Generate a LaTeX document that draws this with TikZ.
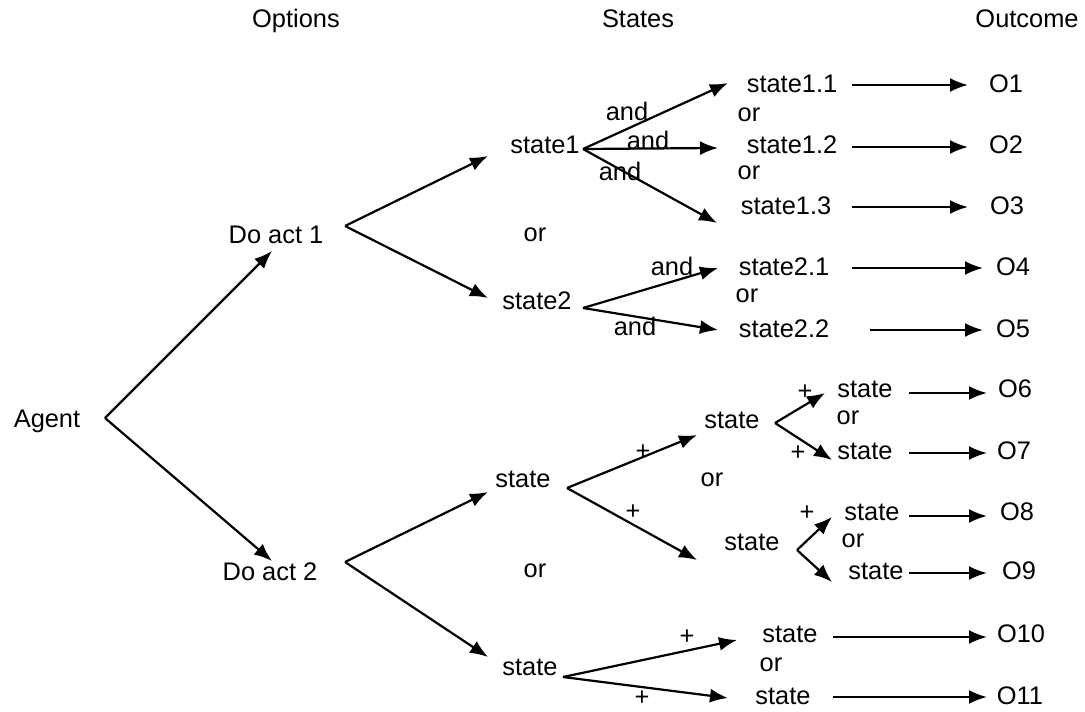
\documentclass[tikz,border=0pt]{standalone}
\usepackage{fontspec}
\setmainfont{Liberation Sans}
\usetikzlibrary{arrows.meta}

\begin{document}
\begin{tikzpicture}[x=0.5pt, y=-0.5pt,
		lbl/.style={font=\fontsize{12.7}{15}\selectfont, inner sep=0pt, text height=0.72em, text depth=0pt},
		arr/.style={-{Latex[length=9pt, width=7pt]}, line width=1.1pt}]
		\useasboundingbox (0, 0) rectangle (1085, 711);

		% headings
		\node [lbl] (hopt) at (296, 20) {Options};
		\node [lbl] (hsta) at (638, 20) {States};
		\node [lbl] (hout) at (1027, 20) {Outcome};

		% agent and options
		\node [lbl] (agent) at (47, 420) {Agent};
		\node [lbl] (act1) at (276, 236) {Do act 1};
		\node [lbl] (act2) at (270, 573) {Do act 2};
		\coordinate (agent-o) at (105, 418);
		\coordinate (act1-i) at (272, 251);
		\coordinate (act1-o) at (345, 226);
		\coordinate (act2-i) at (272, 561);
		\coordinate (act2-o) at (345, 562);
		\draw [arr] (agent-o) -- (act1-i);
		\draw [arr] (agent-o) -- (act2-i);

		% states of act 1
		\node [lbl] (s1) at (545, 146) {state1};
		\node [lbl] (s2) at (537, 302) {state2};
		\node [lbl] (or1) at (535, 234) {or};
		\coordinate (s1-i) at (488, 156);
		\coordinate (s1-o) at (583, 149);
		\coordinate (s2-i) at (488, 298);
		\coordinate (s2-o) at (583, 308);
		\draw [arr] (act1-o) -- (s1-i);
		\draw [arr] (act1-o) -- (s2-i);

		\node [lbl] (s11) at (792, 85) {state1.1};
		\node [lbl] (s12) at (792, 146) {state1.2};
		\node [lbl] (s13) at (786, 207) {state1.3};
		\node [lbl] (or11) at (749, 114) {or};
		\node [lbl] (or12) at (749, 172) {or};
		\node [lbl] (and11) at (627, 113) {and};
		\node [lbl] (and12) at (648, 142) {and};
		\node [lbl] (and13) at (620, 173) {and};
		\coordinate (s11-i) at (728, 83);
		\coordinate (s12-i) at (718, 148);
		\coordinate (s13-i) at (717, 223);
		\draw [arr] (s1-o) -- (s11-i);
		\draw [arr] (s1-o) -- (s12-i);
		\draw [arr] (s1-o) -- (s13-i);

		\node [lbl] (s21) at (784, 268) {state2.1};
		\node [lbl] (s22) at (784, 330) {state2.2};
		\node [lbl] (or21) at (747, 295) {or};
		\node [lbl] (and21) at (672, 268) {and};
		\node [lbl] (and22) at (635, 328) {and};
		\coordinate (s21-i) at (718, 268);
		\coordinate (s22-i) at (718, 330);
		\draw [arr] (s2-o) -- (s21-i);
		\draw [arr] (s2-o) -- (s22-i);

		% states of act 2
		\node [lbl] (s3) at (523, 480) {state};
		\node [lbl] (s4) at (530, 668) {state};
		\node [lbl] (or2) at (535, 570) {or};
		\coordinate (s3-i) at (488, 492);
		\coordinate (s3-o) at (567, 488);
		\coordinate (s4-i) at (488, 657);
		\coordinate (s4-o) at (563, 677);
		\draw [arr] (act2-o) -- (s3-i);
		\draw [arr] (act2-o) -- (s4-i);

		\node [lbl] (s31) at (732, 421) {state};
		\node [lbl] (s32) at (752, 543) {state};
		\node [lbl] (or3) at (712, 479) {or};
		\node [lbl] (p31) at (643, 452) {+};
		\node [lbl] (p32) at (633, 512) {+};
		\coordinate (s31-i) at (697, 435);
		\coordinate (s31-o) at (775, 423);
		\coordinate (s32-i) at (697, 560);
		\coordinate (s32-o) at (797, 550);
		\draw [arr] (s3-o) -- (s31-i);
		\draw [arr] (s3-o) -- (s32-i);

		\node [lbl] (s311) at (865, 390) {state};
		\node [lbl] (s312) at (865, 452) {state};
		\node [lbl] (or31) at (848, 417) {or};
		\node [lbl] (p311) at (805, 392) {+};
		\node [lbl] (p312) at (798, 453) {+};
		\coordinate (s311-i) at (825, 393);
		\coordinate (s312-i) at (832, 460);
		\draw [arr] (s31-o) -- (s311-i);
		\draw [arr] (s31-o) -- (s312-i);

		\node [lbl] (s321) at (872, 513) {state};
		\node [lbl] (s322) at (876, 572) {state};
		\node [lbl] (or32) at (853, 540) {or};
		\node [lbl] (p321) at (807, 513) {+};
		\coordinate (s321-i) at (832, 517);
		\coordinate (s322-i) at (832, 582);
		\draw [arr] (s32-o) -- (s321-i);
		\draw [arr] (s32-o) -- (s322-i);

		\node [lbl] (s41) at (790, 635) {state};
		\node [lbl] (s42) at (783, 697) {state};
		\node [lbl] (or4) at (771, 664) {or};
		\node [lbl] (p41) at (687, 637) {+};
		\node [lbl] (p42) at (642, 698) {+};
		\coordinate (s41-i) at (737, 640);
		\coordinate (s42-i) at (728, 698);
		\draw [arr] (s4-o) -- (s41-i);
		\draw [arr] (s4-o) -- (s42-i);

		% outcomes
		\node [lbl] (o1) at (1006, 85) {O1};
		\node [lbl] (o2) at (1006, 146) {O2};
		\node [lbl] (o3) at (1007, 207) {O3};
		\node [lbl] (o4) at (1013, 268) {O4};
		\node [lbl] (o5) at (1013, 330) {O5};
		\node [lbl] (o6) at (1015, 390) {O6};
		\node [lbl] (o7) at (1014, 452) {O7};
		\node [lbl] (o8) at (1017, 513) {O8};
		\node [lbl] (o9) at (1019, 572) {O9};
		\node [lbl] (o10) at (1021, 635) {O10};
		\node [lbl] (o11) at (1020, 697) {O11};

		\coordinate (s11-o) at (852, 85);   \coordinate (o1-i) at (968, 85);
		\coordinate (s12-o) at (852, 147);  \coordinate (o2-i) at (968, 147);
		\coordinate (s13-o) at (852, 207);  \coordinate (o3-i) at (968, 207);
		\coordinate (s21-o) at (852, 268);  \coordinate (o4-i) at (983, 268);
		\coordinate (s22-o) at (870, 330);  \coordinate (o5-i) at (983, 330);
		\coordinate (s311-o) at (909, 393); \coordinate (o6-i) at (987, 393);
		\coordinate (s312-o) at (909, 453); \coordinate (o7-i) at (987, 453);
		\coordinate (s321-o) at (909, 516); \coordinate (o8-i) at (987, 516);
		\coordinate (s322-o) at (909, 573); \coordinate (o9-i) at (987, 573);
		\coordinate (s41-o) at (833, 637);  \coordinate (o10-i) at (987, 637);
		\coordinate (s42-o) at (833, 697);  \coordinate (o11-i) at (987, 697);

		\draw [arr] (s11-o) -- (o1-i);
		\draw [arr] (s12-o) -- (o2-i);
		\draw [arr] (s13-o) -- (o3-i);
		\draw [arr] (s21-o) -- (o4-i);
		\draw [arr] (s22-o) -- (o5-i);
		\draw [arr] (s311-o) -- (o6-i);
		\draw [arr] (s312-o) -- (o7-i);
		\draw [arr] (s321-o) -- (o8-i);
		\draw [arr] (s322-o) -- (o9-i);
		\draw [arr] (s41-o) -- (o10-i);
		\draw [arr] (s42-o) -- (o11-i);
	\end{tikzpicture}
\end{document}
